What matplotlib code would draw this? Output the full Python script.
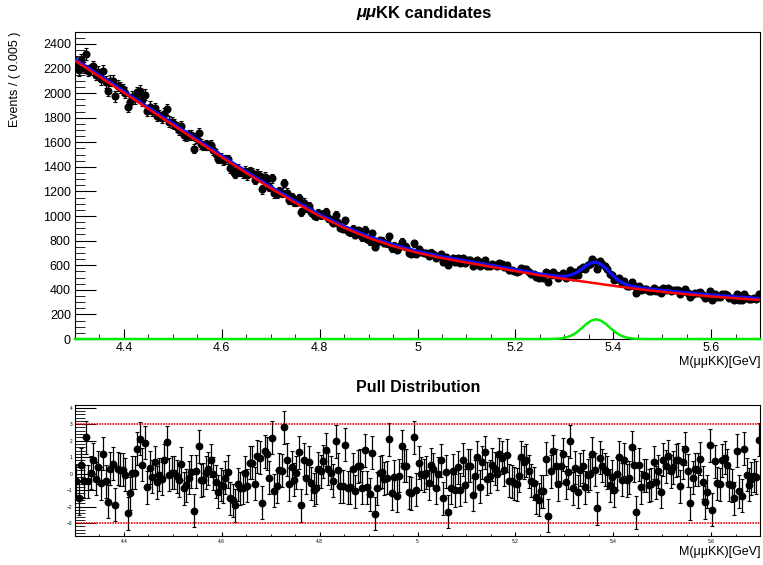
import numpy as np
import matplotlib.pyplot as plt
from matplotlib.ticker import MultipleLocator, FuncFormatter

plt.rcParams['font.family'] = ['Liberation Sans', 'DejaVu Sans']

# binning of the mass histogram
m_lo, m_hi, bin_w = 4.3, 5.7, 0.005

# fitted model sampled along the mass axis (finer steps across the peak)
curve_mass = [4.30, 4.35, 4.40, 4.45, 4.50, 4.55, 4.60, 4.65, 4.70, 4.75,
              4.80, 4.85, 4.90, 4.95, 5.00, 5.05, 5.10, 5.15, 5.20, 5.25,
              5.265, 5.275, 5.285, 5.295, 5.305, 5.315, 5.325, 5.335, 5.345,
              5.355, 5.365, 5.375, 5.385, 5.395, 5.405, 5.415, 5.425, 5.435,
              5.445, 5.455, 5.465, 5.50, 5.55, 5.60, 5.65, 5.70]
bkg_curve = [2264, 2133, 2002, 1871, 1740, 1609, 1478, 1350, 1226, 1108,
             1000, 904, 822, 755, 701, 658, 622, 587, 552, 518,
             508, 503, 497, 492, 486, 481, 475, 469, 464,
             458, 453, 447, 441, 436, 430, 425, 420, 414,
             409, 404, 399, 384, 364, 346, 331, 318]
sig_curve = [0, 0, 0, 0, 0, 0, 0, 0, 0, 0,
             0, 0, 0, 0, 0, 0, 0, 0, 0, 0,
             0, 1, 2, 6, 14, 29, 53, 86, 122,
             149, 160, 149, 122, 86, 53, 29, 14, 6,
             2, 1, 0, 0, 0, 0, 0, 0]
# small offset of the total pdf above the background component
tot_offset = 12

# events per 0.005 GeV bin
counts = [
    2248, 2186, 2269, 2208, 2320, 2182, 2193, 2218, 2151, 2171,
    2112, 2180, 2090, 2021, 2100, 2101, 1973, 2061, 2046, 2033,
    2004, 1888, 1928, 1970, 1957, 2008, 2021, 1940, 1985, 1853,
    1891, 1854, 1880, 1814, 1821, 1798, 1832, 1867, 1769, 1761,
    1747, 1725, 1703, 1731, 1656, 1651, 1656, 1658, 1549, 1634,
    1679, 1585, 1573, 1577, 1574, 1581, 1536, 1503, 1467, 1471,
    1455, 1461, 1462, 1389, 1370, 1346, 1383, 1360, 1348, 1370,
    1330, 1366, 1354, 1297, 1344, 1328, 1218, 1318, 1300, 1235,
    1306, 1185, 1182, 1205, 1191, 1269, 1190, 1128, 1151, 1113,
    1116, 1147, 1030, 1110, 1062, 1084, 1031, 1007, 1000, 1027,
    1011, 1020, 1033, 987, 970, 946, 1010, 947, 906, 897,
    964, 878, 871, 895, 847, 884, 877, 829, 888, 814,
    796, 859, 749, 785, 805, 800, 781, 777, 835, 737,
    759, 723, 750, 793, 756, 750, 701, 694, 780, 690,
    728, 706, 699, 699, 679, 703, 692, 658, 676, 693,
    630, 668, 602, 635, 659, 624, 657, 618, 661, 618,
    644, 641, 593, 618, 643, 595, 628, 640, 596, 597,
    610, 601, 590, 615, 606, 586, 603, 563, 558, 552,
    547, 556, 578, 568, 568, 548, 532, 525, 501, 495,
    503, 499, 542, 461, 520, 546, 523, 497, 520, 536,
    500, 516, 564, 506, 544, 521, 566, 586, 570, 602,
    614, 651, 629, 569, 637, 612, 590, 567, 528, 520,
    483, 488, 495, 453, 469, 435, 431, 463, 435, 373,
    429, 398, 410, 408, 394, 393, 418, 390, 402, 375,
    412, 402, 412, 392, 395, 401, 400, 366, 393, 407,
    378, 339, 367, 375, 373, 383, 354, 330, 340, 392,
    316, 370, 343, 341, 366, 368, 357, 335, 332, 316,
    368, 321, 315, 366, 336, 324, 329, 331, 328, 369,
]

# fit residuals per bin, (data - fit) / error
pulls = [
    -0.47, -1.5, 0.55, -0.47, 2.2, -0.47, 0.04, 0.85, -0.3, 0.4, -0.57, 1.2,
    -0.47, -1.7, 0.3, 0.6, -1.9, 0.3, 0.25, 0.25, -0.06, -2.4, -1.2, 0.04,
    0.04, 1.5, 2.1, 0.55, 1.87, -0.83, 0.35, -0.2, 0.7, -0.53, -0.06, -0.3,
    0.8, 1.9, -0.06, 0.04, 0.04, -0.16, -0.4, 0.6, -0.9, -0.7, -0.26,
    0.1, -2.25, 0.15, 1.65, -0.4, -0.37, 0.04, 0.3, 0.8, 0.0, -0.5, -1.1,
    -0.67, -0.77, -0.26, 0.1, -1.48, -1.62, -1.93, -0.63, -0.9, -0.87, 0.04,
    -0.73, 0.65, 0.65, -0.6, 1.05, 0.95, -1.75, 1.36, 1.2, -0.26, 2.17, -1.03,
    -0.77, 0.24, 0.18, 2.82, 0.85, -0.63, 0.38, -0.37, 0.04, 1.3, -1.93, 0.85,
    -0.26, 0.7, -0.57, -0.97, -0.87, 0.3, 0.14, 0.75, 1.46, 0.3, 0.04, -0.43,
    1.97, 0.24, -0.77, -0.77, 1.76, -0.87, -0.83, 0.28, -1.07, 0.45, 0.49,
    -0.87, 1.42, -0.83, -1.24, 1.26, -2.43, -0.9, 0.04, 0.1, -0.32, -0.26,
    2.07, -1.18, -0.2, -1.34, -0.12, 1.66, 0.49, 0.49, -1.14, -1.18, 2.2, -0.97,
    0.65, 0.0, -0.1, 0.04, -0.57, 0.55, 0.28, -0.87, 0.0, 0.8, -1.48, 0.1,
    -2.3, -0.87, 0.18, -1.0, 0.38, -0.97, 0.85, -0.7, 0.49, 0.49, -1.28, -0.16,
    1.0, -0.8, 0.7, 1.3, -0.32, -0.16, 0.55, 0.3, 0.0, 1.16, 0.95, 0.24, 1.1,
    -0.43, -0.47, -0.57, -0.63, -0.12, 1.0, 0.7, 0.8, 0.14, -0.43,
    -0.57, -1.44, -1.58, -1.07, -1.07, 0.9, -2.54, 0.14, 1.36, 0.49, -0.63,
    0.45, 1.16, -0.53, 0.08, 1.97, -0.9, 0.35, -1.1, 0.24, 0.45, -0.83, -0.1,
    0.0, 1.2, 0.24, -2.09, 0.95, 0.49, 0.24, 0.08, -0.7, -0.2, -1.0, 0.0, 1.0,
    -0.37, 0.85, -0.4, -0.26, 1.6, 0.5, -2.33, 0.55, -0.83, -0.1,
    -0.12, -0.7, -0.63, 0.7, -0.53, 0.14, -1.1, 0.85, 0.45, 1.05, 0.14, 0.4,
    0.8, 0.85, -0.77, 0.7, 1.52, 0.18, -1.78, -0.26, 0.28, 0.24, 0.9, -0.53,
    -1.74, -1.1, 1.72, -2.2, 0.75, -0.57, -0.63, 0.8, 0.95, 0.5, -0.63, -0.7,
    -1.48, 1.4, -1.07, -1.34, 1.52, -0.06, -0.67, -0.32, -0.12, -0.22, 2.05,
]

x_ticklabels_fmt = FuncFormatter(lambda v, _: f"{v:g}")
xlabel = "M(\u03bc\u03bcKK)[GeV]"

W, H = 763, 565


def box(l, t, r, b):
    return [l / W, 1 - b / H, (r - l) / W, (b - t) / H]


fig = plt.figure(figsize=(W / 100, H / 100), dpi=100)
ax = fig.add_axes(box(75, 32, 760, 339))
axp = fig.add_axes(box(75, 405, 760, 536))

centers = m_lo + bin_w * (np.arange(len(counts)) + 0.5)
cm = np.array(curve_mass)
bkg = np.array(bkg_curve, float)
sig = np.array(sig_curve, float)
n = np.array(counts, float)

# --- mass fit panel ---
ax.errorbar(centers, n, yerr=np.sqrt(n), fmt='o', color='black', ms=4.8,
            elinewidth=0.9, capsize=1.3, capthick=0.8, zorder=3)
ax.plot(cm, bkg + sig + tot_offset, color='#1010ff', lw=2.3, zorder=4)
ax.plot(cm, bkg, color='#ff0000', lw=1.8, zorder=5)
ax.plot(cm, sig, color='#00ee00', lw=1.8, zorder=6, clip_on=False)

ax.set_xlim(m_lo, m_hi)
ax.set_ylim(0, 2497)
ax.xaxis.set_major_locator(MultipleLocator(0.2))
ax.xaxis.set_minor_locator(MultipleLocator(0.05))
ax.xaxis.set_major_formatter(x_ticklabels_fmt)
ax.yaxis.set_major_locator(MultipleLocator(200))
ax.yaxis.set_minor_locator(MultipleLocator(50))
ax.tick_params(which='both', direction='in', top=False, right=False,
               labelsize=9, pad=3)
ax.tick_params(axis='y', which='major', length=15)
ax.tick_params(axis='y', which='minor', length=7.5)
ax.tick_params(axis='x', which='major', length=7)
ax.tick_params(axis='x', which='minor', length=3.5)
ax.tick_params(axis='x', pad=2)
ax.text(1.0, -0.055, xlabel, transform=ax.transAxes, ha='right', va='top',
        fontsize=9)
fig.text(15 / W, 1 - 32 / H, "Events / ( 0.005 )", rotation=90,
         ha='center', va='top', fontsize=9)

t1 = fig.text(356 / W, 1 - 13 / H, "\u03bc\u03bc", fontsize=12,
              fontweight='bold', style='italic', va='center', ha='left')
ax.annotate("KK candidates", xy=(1, 0.5), xycoords=t1, va='center',
            ha='left', fontsize=12, fontweight='bold')

# --- pull panel ---
axp.errorbar(centers, pulls, yerr=1.0, fmt='o', color='black', ms=4.6,
             elinewidth=0.9, capsize=1.3, capthick=0.8)
axp.axhline(3, color='red', lw=1.2, ls=(0, (1.0, 0.6)))
axp.axhline(-3, color='red', lw=1.2, ls=(0, (1.0, 0.6)))
axp.set_xlim(m_lo, m_hi)
axp.set_ylim(-3.78, 4.16)
axp.xaxis.set_major_locator(MultipleLocator(0.2))
axp.xaxis.set_minor_locator(MultipleLocator(0.05))
axp.xaxis.set_major_formatter(x_ticklabels_fmt)
axp.yaxis.set_major_locator(MultipleLocator(1))
axp.yaxis.set_minor_locator(MultipleLocator(0.2))
axp.tick_params(which='both', direction='in', top=False, right=False,
                labelsize=3.5, pad=2)
axp.tick_params(axis='y', which='major', length=15)
axp.tick_params(axis='y', which='minor', length=7.5)
axp.tick_params(axis='x', which='major', length=3)
axp.tick_params(axis='x', which='minor', length=1.5)
axp.text(1.0, -0.08, xlabel, transform=axp.transAxes, ha='right', va='top',
         fontsize=9)
fig.text(418 / W, 1 - 387 / H, "Pull Distribution", fontsize=11.5,
         fontweight='bold', ha='center', va='center')

fig.savefig('out.png', dpi=100)
